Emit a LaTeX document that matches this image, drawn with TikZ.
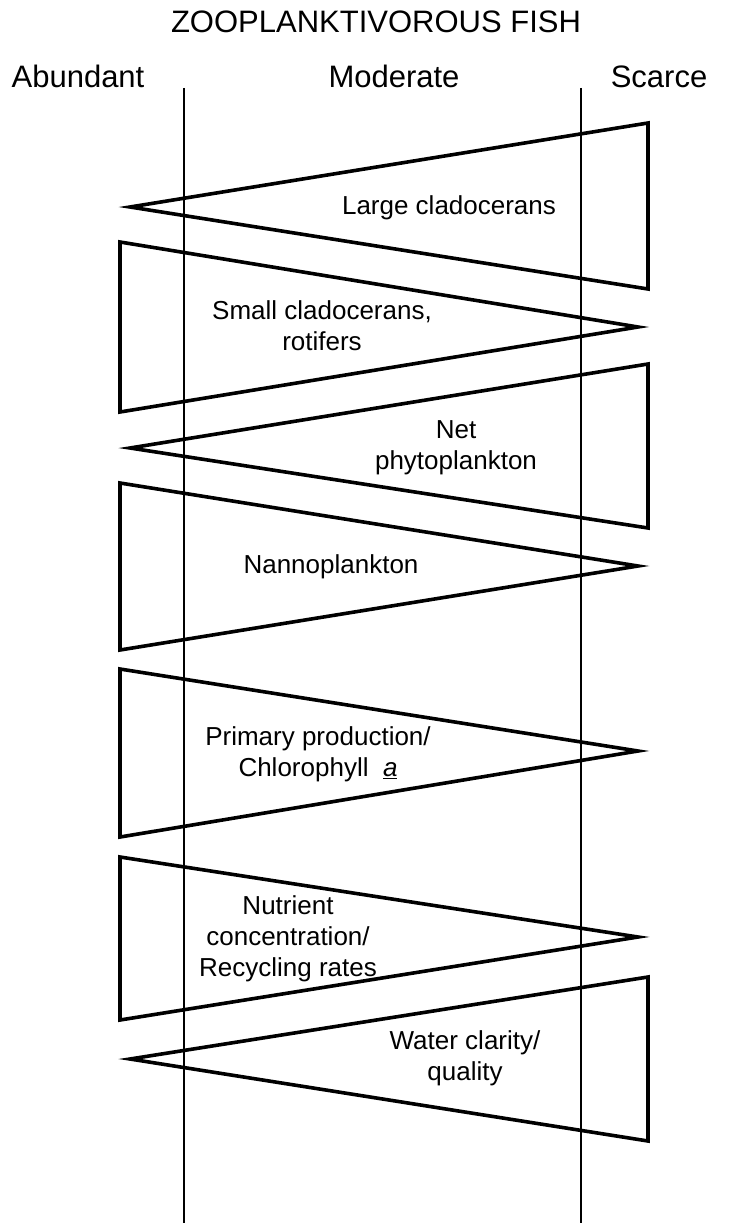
\documentclass[tikz,border=0pt]{standalone}
\usepackage{fontspec}
\setmainfont{Liberation Sans}
\begin{document}
\begin{tikzpicture}[x=1pt,y=-1pt,
  wedge/.style={draw=black,line width=3.6pt,line join=miter},
  divider/.style={draw=black,line width=2.2pt},
  head/.style={font=\fontsize{31}{36}\selectfont,anchor=base,inner sep=0pt},
  lab/.style={font=\fontsize{26}{31}\selectfont,align=center,inner sep=0pt}]
\useasboundingbox (0,0) rectangle (728,1225);

% headers
\node[head] (title) at (376,33) {ZOOPLANKTIVOROUS FISH};
\node[head] (abund) at (78,88) {Abundant};
\node[head] (moder) at (394,88) {Moderate};
\node[head] (scarce) at (659,88) {Scarce};

% dividers
\coordinate (d1t) at (184,88);  \coordinate (d1b) at (184,1223);
\coordinate (d2t) at (581,88);  \coordinate (d2b) at (581,1223);
\draw[divider] (d1t) -- (d1b);
\draw[divider] (d2t) -- (d2b);

% wedge 1: Large cladocerans (left pointing)
\coordinate (w1a) at (648,123); \coordinate (w1b) at (648,289); \coordinate (w1p) at (130,207);
\draw[wedge] (w1a) -- (w1b) -- (w1p) -- cycle;
% wedge 2: Small cladocerans (right pointing)
\coordinate (w2a) at (120,242); \coordinate (w2b) at (120,412); \coordinate (w2p) at (638,327);
\draw[wedge] (w2a) -- (w2b) -- (w2p) -- cycle;
% wedge 3: Net phytoplankton (left pointing)
\coordinate (w3a) at (648,364); \coordinate (w3b) at (648,528); \coordinate (w3p) at (130,448);
\draw[wedge] (w3a) -- (w3b) -- (w3p) -- cycle;
% wedge 4: Nannoplankton (right pointing)
\coordinate (w4a) at (120,483); \coordinate (w4b) at (120,650); \coordinate (w4p) at (638,566);
\draw[wedge] (w4a) -- (w4b) -- (w4p) -- cycle;
% wedge 5: Primary production (right pointing)
\coordinate (w5a) at (120,669); \coordinate (w5b) at (120,837); \coordinate (w5p) at (638,751);
\draw[wedge] (w5a) -- (w5b) -- (w5p) -- cycle;
% wedge 6: Nutrient (right pointing)
\coordinate (w6a) at (120,857); \coordinate (w6b) at (120,1020); \coordinate (w6p) at (638,937);
\draw[wedge] (w6a) -- (w6b) -- (w6p) -- cycle;
% wedge 7: Water clarity (left pointing)
\coordinate (w7a) at (648,977); \coordinate (w7b) at (648,1141); \coordinate (w7p) at (130,1059);
\draw[wedge] (w7a) -- (w7b) -- (w7p) -- cycle;

% labels
\node[lab] (l1) at (449,208) {Large cladocerans};
\node[lab] (l2) at (322,326) {Small cladocerans,\\rotifers};
\node[lab] (l3) at (456,448) {Net\\phytoplankton};
\node[lab] (l4) at (331,567) {Nannoplankton};
\node[lab] (l5) at (318,754) {Primary production/\\Chlorophyll\ \ \underline{\textit{a}}};
\node[lab] (l6) at (288,939) {Nutrient\\concentration/\\Recycling rates};
\node[lab] (l7) at (465,1058) {Water clarity/\\quality};
\end{tikzpicture}
\end{document}
